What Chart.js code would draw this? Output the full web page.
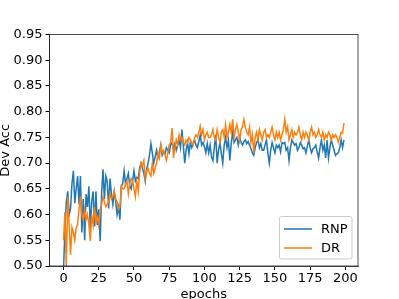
<!DOCTYPE html>
<html><head><meta charset="utf-8">
<script src="https://cdn.jsdelivr.net/npm/chart.js@4/dist/chart.umd.min.js"></script>
<style>html,body{margin:0;padding:0;background:#fff;}canvas{display:block;}</style>
</head><body>
<canvas id="c" width="399" height="299"></canvas>
<script>
const seriesNames = ['RNP', 'DR'];
const rnpAcc = [
0.490,0.575,0.625,0.645,0.600,0.612,0.660,0.685,0.622,0.650,
0.675,0.620,0.675,0.565,0.630,0.550,0.640,0.615,0.655,0.572,
0.625,0.645,0.577,0.645,0.580,0.610,0.548,0.640,0.688,0.630,
0.675,0.665,0.612,0.670,0.640,0.620,0.645,0.625,0.600,0.615,
0.590,0.655,0.660,0.685,0.660,0.670,0.680,0.655,0.650,0.665,
0.685,0.665,0.672,0.670,0.690,0.700,0.690,0.680,0.665,0.688,
0.700,0.715,0.738,0.720,0.700,0.712,0.725,0.710,0.720,0.735,
0.715,0.722,0.718,0.730,0.725,0.720,0.735,0.740,0.728,0.738,
0.725,0.735,0.745,0.730,0.765,0.735,0.700,0.725,0.740,0.718,
0.740,0.730,0.738,0.745,0.735,0.730,0.742,0.755,0.735,0.740,
0.732,0.720,0.738,0.720,0.735,0.712,0.705,0.730,0.755,0.700,
0.725,0.740,0.718,0.700,0.735,0.750,0.730,0.745,0.705,0.738,
0.760,0.740,0.745,0.750,0.735,0.750,0.740,0.735,0.742,0.745,
0.738,0.742,0.735,0.728,0.720,0.715,0.730,0.740,0.745,0.730,
0.738,0.725,0.725,0.735,0.745,0.720,0.700,0.725,0.740,0.730,
0.720,0.735,0.730,0.735,0.722,0.740,0.738,0.740,0.725,0.730,
0.705,0.730,0.745,0.740,0.735,0.738,0.725,0.730,0.740,0.735,
0.728,0.730,0.720,0.732,0.745,0.730,0.720,0.728,0.730,0.735,
0.722,0.710,0.730,0.745,0.725,0.735,0.710,0.745,0.710,0.730,
0.745,0.735,0.725,0.715,0.718,0.720,0.730,0.745,0.730,0.745
];
const drAcc = [
0.550,0.605,0.500,0.635,0.580,0.522,0.575,0.565,0.550,0.575,
0.580,0.610,0.635,0.600,0.590,0.610,0.590,0.600,0.580,0.548,
0.600,0.580,0.615,0.585,0.595,0.580,0.610,0.620,0.635,0.625,
0.615,0.620,0.625,0.640,0.630,0.635,0.645,0.630,0.625,0.610,
0.615,0.655,0.650,0.650,0.660,0.665,0.640,0.660,0.670,0.665,
0.650,0.635,0.665,0.645,0.680,0.700,0.695,0.705,0.670,0.685,
0.690,0.680,0.675,0.700,0.680,0.690,0.700,0.720,0.710,0.735,
0.720,0.725,0.715,0.705,0.720,0.735,0.740,0.768,0.710,0.730,
0.745,0.735,0.755,0.745,0.750,0.740,0.735,0.745,0.740,0.750,
0.745,0.740,0.735,0.750,0.755,0.750,0.760,0.772,0.755,0.765,
0.745,0.755,0.760,0.750,0.750,0.755,0.765,0.750,0.745,0.765,
0.750,0.740,0.760,0.765,0.750,0.775,0.750,0.760,0.775,0.760,
0.785,0.750,0.765,0.775,0.760,0.745,0.765,0.770,0.785,0.770,
0.760,0.755,0.770,0.740,0.755,0.720,0.750,0.760,0.745,0.765,
0.755,0.745,0.760,0.765,0.750,0.755,0.750,0.760,0.770,0.755,
0.745,0.760,0.750,0.760,0.745,0.755,0.765,0.785,0.760,0.770,
0.745,0.755,0.765,0.750,0.760,0.755,0.760,0.770,0.755,0.745,
0.760,0.750,0.760,0.755,0.745,0.760,0.770,0.755,0.760,0.750,
0.755,0.765,0.755,0.750,0.760,0.745,0.755,0.750,0.760,0.755,
0.745,0.755,0.750,0.755,0.750,0.740,0.750,0.760,0.758,0.778
];
const xTicks = [0, 25, 50, 75, 100, 125, 150, 175, 200];
const yTicks = [0.50, 0.55, 0.60, 0.65, 0.70, 0.75, 0.80, 0.85, 0.90, 0.95];
const xTitle = 'epochs';
const yTitle = 'Dev Acc';

const colors = ['#1f77b4', '#ff7f0e'];
const FONT = 'DejaVu Sans';

const frame = {
  id: 'frame',
  afterDatasetsDraw(chart) {
    const a = chart.chartArea, ctx = chart.ctx;
    ctx.save();
    ctx.strokeStyle = '#222';
    ctx.lineWidth = 0.8;
    ctx.strokeRect(a.left, a.top, a.right - a.left, a.bottom - a.top);
    const bx = 279.5, by = 216.5, bw = 72.5, bh = 42.5;
    ctx.fillStyle = 'rgba(255,255,255,0.8)';
    ctx.strokeStyle = '#cccccc';
    ctx.lineWidth = 1;
    ctx.beginPath();
    ctx.roundRect(bx, by, bw, bh, 2);
    ctx.fill(); ctx.stroke();
    ctx.font = '13px "' + FONT + '"';
    ctx.textBaseline = 'middle';
    ctx.textAlign = 'left';
    chart.data.datasets.forEach((ds, i) => {
      const y = 229 + i * 19;
      ctx.strokeStyle = ds.borderColor;
      ctx.lineWidth = 1.5;
      ctx.beginPath(); ctx.moveTo(284, y); ctx.lineTo(312, y); ctx.stroke();
      ctx.fillStyle = '#000';
      ctx.fillText(ds.label, 321, y + 0.5);
    });
    ctx.restore();
  }
};

new Chart(document.getElementById('c'), {
  type: 'line',
  data: {
    datasets: [
      { label: seriesNames[0], data: rnpAcc.map((v, i) => ({x: i, y: v})), borderColor: colors[0], order: 1 },
      { label: seriesNames[1], data: drAcc.map((v, i) => ({x: i, y: v})), borderColor: colors[1], order: 0 }
    ]
  },
  options: {
    responsive: false,
    animation: false,
    devicePixelRatio: 1,
    layout: { padding: { top: 34.5, right: 41, left: 0, bottom: 0 } },
    elements: { point: { radius: 0 }, line: { borderWidth: 1.5, tension: 0 } },
    plugins: { legend: { display: false }, tooltip: { enabled: false } },
    scales: {
      x: {
        type: 'linear', min: -9.95, max: 208.95,
        afterBuildTicks: s => { s.ticks = xTicks.map(v => ({value: v})); },
        afterFit: s => { s.height = 33; },
        grid: { drawOnChartArea: false, tickLength: 4, tickColor: '#000' },
        border: { display: true, color: '#222', width: 0.8 },
        ticks: { color: '#000', font: { family: FONT, size: 13 }, padding: 1, maxRotation: 0, callback: v => String(v) },
        title: { display: true, text: xTitle, color: '#000', font: { family: FONT, size: 13 }, padding: { top: 0, bottom: -3 } }
      },
      y: {
        type: 'linear', min: 0.5, max: 0.95,
        afterBuildTicks: s => { s.ticks = yTicks.map(v => ({value: v})); },
        afterFit: s => { s.width = 49.5; },
        grid: { drawOnChartArea: false, tickLength: 4, tickColor: '#000' },
        border: { display: true, color: '#222', width: 0.8 },
        ticks: { color: '#000', font: { family: FONT, size: 13 }, padding: 3, callback: v => v.toFixed(2) },
        title: { display: true, text: yTitle, color: '#000', font: { family: FONT, size: 13 }, padding: { top: -2, bottom: 0 } }
      }
    }
  },
  plugins: [frame]
});
</script>
</body></html>
